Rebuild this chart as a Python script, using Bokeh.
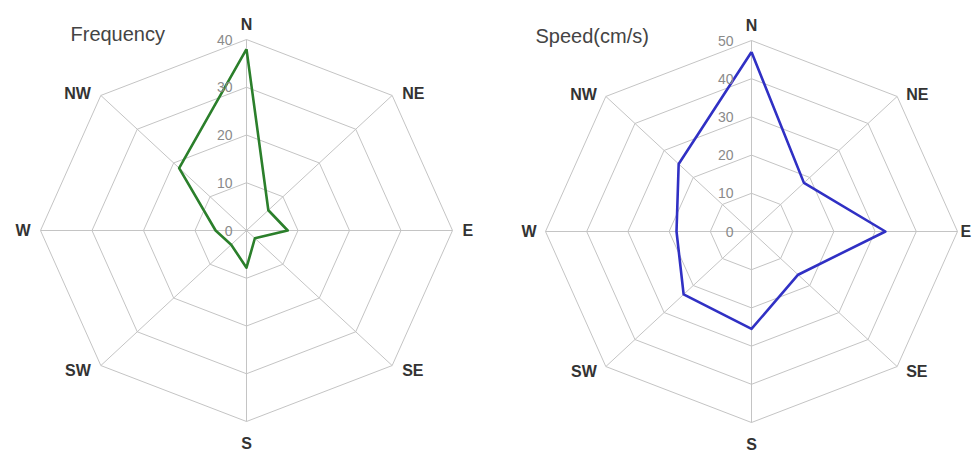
import numpy as np
from bokeh.plotting import figure
from bokeh.layouts import row
from bokeh.models import Range1d
from bokeh.embed import file_html
from bokeh.resources import INLINE
from bokeh.core.properties import value

# ---------------- data ----------------
directions = ["N", "NE", "E", "SE", "S", "SW", "W", "NW"]
freq_values = [38, 6, 8, 2.3, 7.8, 4.2, 6, 18.5]
freq_ticks = [0, 10, 20, 30, 40]
speed_values = [47, 18, 32.5, 16, 25.5, 23.3, 18.2, 25]
speed_ticks = [0, 10, 20, 30, 40, 50]

FONT = "Liberation Sans"
GRID = "#c4c4c4"
FIG_H = 453
TOP = 0
RX, RY = 206, 191  # pixel radius of outer ring (horizontal / vertical)


def radar(title, vals, ticks, color, width, left_px, cx_px, cy_px,
          tick_gap, lab_gap, title_px, e_gap=None):
    rmax = ticks[-1]
    xr = Range1d((left_px - cx_px) / RX, (left_px + width - cx_px) / RX)
    yr = Range1d(-(TOP + FIG_H - cy_px) / RY, (cy_px - TOP) / RY)
    p = figure(width=width, height=FIG_H, x_range=xr, y_range=yr,
               output_backend="svg", toolbar_location=None,
               x_axis_location=None, y_axis_location=None, min_border=0)
    p.grid.visible = False
    p.outline_line_color = None
    p.background_fill_color = "white"
    p.border_fill_color = "white"

    ang = np.radians(np.arange(len(directions)) * 360.0 / len(directions))
    sx, cy = np.sin(ang), np.cos(ang)

    # rings
    rxs, rys = [], []
    for t in ticks[1:]:
        r = t / rmax
        rxs.append(list(np.append(r * sx, r * sx[0])))
        rys.append(list(np.append(r * cy, r * cy[0])))
    p.multi_line(rxs, rys, line_color=GRID, line_width=1)
    # spokes
    p.multi_line([[0, a] for a in sx], [[0, b] for b in cy],
                 line_color=GRID, line_width=1)

    # data polygon
    v = np.array(vals) / rmax
    px = np.append(v * sx, v[0] * sx[0])
    py = np.append(v * cy, v[0] * cy[0])
    p.line(px, py, line_color=color, line_width=2.6, line_join="round")

    # tick labels
    p.text(x=[0] * len(ticks), y=[t / rmax for t in ticks],
           text=[str(t) for t in ticks], x_offset=-tick_gap,
           text_align="right", text_baseline="middle",
           text_font=value(FONT), text_font_size="14px", text_color="#8a8a8a")

    # direction labels
    for d, a, b in zip(directions, sx, cy):
        if abs(a) < 1e-9:
            align, xo = "center", 0
            if b > 0:
                yo, base = -15, "alphabetic"
            else:
                yo, base = 13, "top"
        else:
            align = "left" if a > 0 else "right"
            xo = lab_gap if a > 0 else -lab_gap
            if d == "E" and e_gap is not None:
                xo = e_gap
            base = "middle"
            yo = -2 if b > 0.1 else (5 if b < -0.1 else 0)
        p.text(x=[a], y=[b], text=[d], x_offset=xo, y_offset=yo,
               text_align=align, text_baseline=base,
               text_font=value(FONT), text_font_size="16px",
               text_font_style="bold", text_color="#333333")

    # title
    tx, ty = title_px
    p.text(x=[(tx - cx_px) / RX], y=[(cy_px - ty) / RY], text=[title],
           text_align="left", text_baseline="middle",
           text_font=value(FONT), text_font_size="20px", text_color="#444444")
    return p


p1 = radar("Frequency", freq_values, freq_ticks, "#2b7f2b", 486, 0, 246, 230,
           14, 10, (70, 33))
p2 = radar("Speed(cm/s)", speed_values, speed_ticks, "#3030c4", 487, 486, 751, 231,
           18, 9, (535, 35), e_gap=3)

layout = row(p1, p2, spacing=0)
open("out.html", "w").write(file_html(layout, INLINE))
